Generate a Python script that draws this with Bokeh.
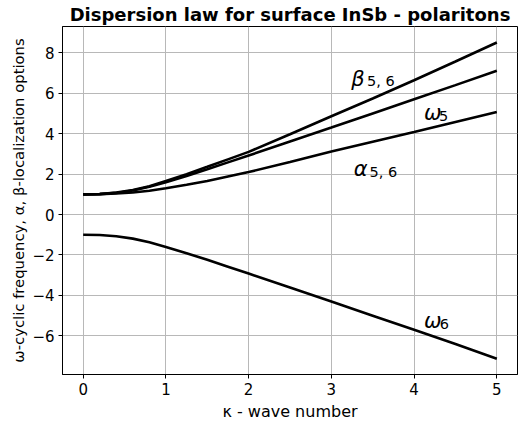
from bokeh.plotting import figure
from bokeh.models import FixedTicker, Range1d
from bokeh.core.properties import value
from bokeh.embed import file_html
from bokeh.resources import INLINE

# wave number kappa
kappa = [0.0, 0.2, 0.4, 0.6, 0.8, 1.0, 1.25, 1.5, 1.75, 2.0, 2.5, 3.0, 3.5, 4.0, 4.5, 5.0]
# curves
beta56 = [1.0, 1.02, 1.09, 1.21, 1.40, 1.66, 2.0, 2.36, 2.73, 3.1, 3.97, 4.86, 5.74, 6.64, 7.57, 8.51]
omega5 = [1.0, 1.01, 1.07, 1.19, 1.37, 1.6, 1.91, 2.24, 2.58, 2.92, 3.61, 4.3, 5.0, 5.7, 6.4, 7.11]
alpha56 = [1.0, 1.01, 1.04, 1.09, 1.18, 1.3, 1.47, 1.66, 1.88, 2.1, 2.6, 3.12, 3.6, 4.08, 4.58, 5.07]
omega6 = [-1.0, -1.01, -1.07, -1.19, -1.37, -1.6, -1.91, -2.24, -2.58, -2.92, -3.61, -4.3, -5.0, -5.7, -6.4, -7.13]

x_ticks = [0, 1, 2, 3, 4, 5]
y_ticks = [-6, -4, -2, 0, 2, 4, 6, 8]

# curve labels: (greek letter, subscript)
label_main = ["β", "ω", "α", "ω"]
label_sub = ["5, 6", "5", "5, 6", "6"]
label_main_pos = [(3.24, 6.70), (4.12, 5.02), (3.27, 2.24), (4.12, -5.27)]
label_sub_pos = [(3.432, 6.62), (4.30, 4.85), (3.462, 2.11), (4.31, -5.41)]

FONT = "DejaVu Sans"

p = figure(width=521, height=423, output_backend="svg", toolbar_location=None,
           x_range=Range1d(-0.25, 5.25), y_range=Range1d(-7.91, 9.30),
           title="Dispersion law for surface InSb - polaritons")
p.min_border_left = 62
p.min_border_right = 4
p.min_border_top = 26
p.min_border_bottom = 46
p.background_fill_color = "white"
p.border_fill_color = "white"
p.outline_line_color = "black"
p.outline_line_width = 1

p.title.align = "center"
p.title.text_font = FONT
p.title.text_font_size = "18px"
p.title.text_font_style = "bold"
p.title.text_color = "black"
p.title.standoff = 3

for ax in (p.xaxis[0], p.yaxis[0]):
    ax.axis_line_color = "black"
    ax.major_tick_in = 0
    ax.major_tick_out = 4
    ax.minor_tick_line_color = None
    ax.major_label_text_font = FONT
    ax.major_label_text_font_size = "15px"
    ax.major_label_text_color = "black"
    ax.major_label_standoff = 4
    ax.axis_label_text_font = FONT
    ax.axis_label_text_font_style = "normal"
    ax.axis_label_text_color = "black"

p.xaxis.axis_label_standoff = 4
p.yaxis.axis_label_standoff = 2
p.xaxis.axis_label_text_font_size = "16px"
p.yaxis.axis_label_text_font_size = "14.8px"

p.xaxis.ticker = FixedTicker(ticks=x_ticks)
p.yaxis.ticker = FixedTicker(ticks=y_ticks)
p.yaxis.major_label_overrides = {t: (str(t).replace("-", "\u2212")) for t in y_ticks}
p.xaxis.axis_label = "κ - wave number"
p.yaxis.axis_label = "ω-cyclic frequency, α, β-localization options"

p.grid.grid_line_color = "#b8b8b8"
p.grid.grid_line_width = 1

for ys in (beta56, omega5, alpha56, omega6):
    p.line(kappa, ys, line_color="black", line_width=2.6)

p.text(x=[q[0] for q in label_main_pos], y=[q[1] for q in label_main_pos], text=label_main,
       text_font=value(FONT), text_font_style="italic", text_font_size="21px",
       text_baseline="alphabetic", text_align="left", text_color="black")
p.text(x=[q[0] for q in label_sub_pos], y=[q[1] for q in label_sub_pos], text=label_sub,
       text_font=value(FONT), text_font_size="14.5px",
       text_baseline="alphabetic", text_align="left", text_color="black")

open("out.html", "w").write(file_html(p, INLINE))
